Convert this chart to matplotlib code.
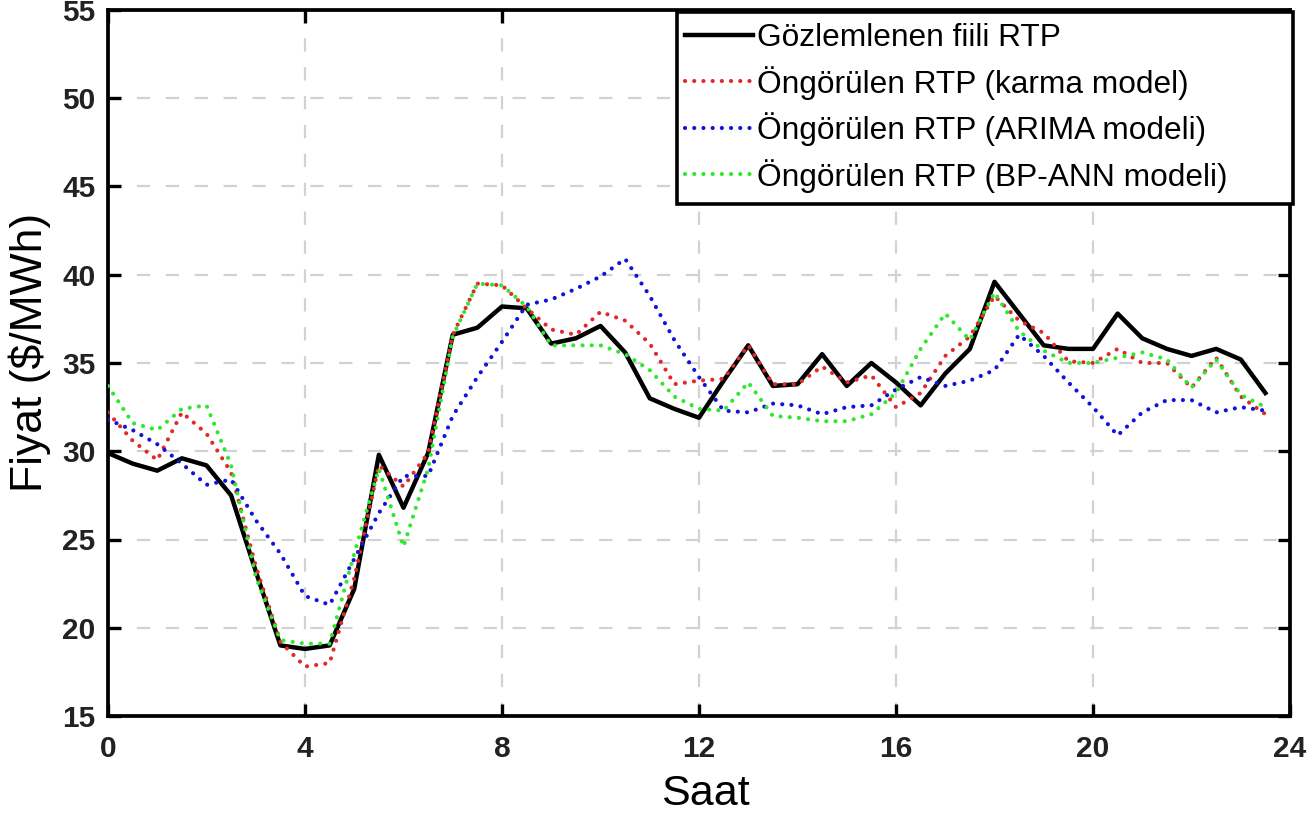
import matplotlib
matplotlib.use("Agg")
import matplotlib.pyplot as plt
from matplotlib.patches import Rectangle

plt.rcParams['font.family'] = ['Liberation Sans', 'DejaVu Sans']

hours = [0, 0.5, 1, 1.5, 2, 2.5, 3, 3.5, 4, 4.5, 5, 5.5, 6, 6.5, 7, 7.5,
         8, 8.5, 9, 9.5, 10, 10.5, 11, 11.5, 12, 12.5, 13, 13.5, 14, 14.5, 15, 15.5,
         16, 16.5, 17, 17.5, 18, 18.5, 19, 19.5, 20, 20.5, 21, 21.5, 22, 22.5, 23, 23.5]

observed = [29.9, 29.3, 28.9, 29.6, 29.2, 27.5, 23.2, 19.0, 18.8, 19.0, 22.2, 29.8,
            26.8, 29.9, 36.6, 37.0, 38.2, 38.1, 36.1, 36.4, 37.1, 35.6, 33.0, 32.4,
            31.9, 34.0, 36.0, 33.7, 33.8, 35.5, 33.7, 35.0, 33.9, 32.6, 34.4, 35.8,
            39.6, 37.8, 36.0, 35.8, 35.8, 37.8, 36.4, 35.8, 35.4, 35.8, 35.2, 33.3]

hybrid = [32.2, 30.6, 29.5, 32.2, 31.0, 28.8, 23.5, 19.2, 17.8, 18.0, 22.8, 29.2,
          28.0, 29.9, 36.6, 39.5, 39.4, 38.1, 36.9, 36.6, 37.9, 37.4, 36.1, 33.8,
          34.0, 34.1, 36.0, 33.8, 33.8, 34.8, 33.9, 34.3, 32.5, 33.3, 35.4, 36.5,
          38.8, 37.4, 36.7, 35.1, 35.0, 35.8, 35.0, 35.0, 33.6, 35.3, 33.1, 32.1]

arima = [31.8, 31.2, 30.4, 29.3, 28.1, 28.4, 26.1, 24.2, 21.8, 21.3, 23.9, 26.5,
         28.6, 28.6, 32.0, 34.2, 36.2, 38.3, 38.6, 39.2, 39.9, 40.9, 38.8, 36.3,
         34.2, 32.3, 32.2, 32.7, 32.6, 32.1, 32.5, 32.6, 33.5, 34.2, 33.7, 34.0,
         34.6, 36.6, 35.4, 33.9, 32.5, 30.9, 32.2, 32.9, 32.9, 32.2, 32.5, 32.3]

bpann = [33.7, 31.6, 31.2, 32.4, 32.6, 29.2, 22.9, 19.3, 19.1, 19.1, 24.2, 29.0,
         24.6, 29.0, 36.5, 39.5, 39.4, 38.2, 36.0, 36.0, 36.0, 35.5, 34.6, 33.1,
         32.4, 32.3, 33.9, 32.0, 31.9, 31.7, 31.7, 32.1, 33.3, 35.8, 37.8, 36.3,
         39.0, 36.8, 35.7, 35.0, 35.0, 35.3, 35.6, 35.2, 33.6, 35.2, 33.2, 32.5]

labels = ["Gözlemlenen fiili RTP",
          "Öngörülen RTP (karma model)",
          "Öngörülen RTP (ARIMA modeli)",
          "Öngörülen RTP (BP-ANN modeli)"]

xticks = [0, 4, 8, 12, 16, 20, 24]
yticks = [15, 20, 25, 30, 35, 40, 45, 50, 55]

W, H = 1314, 813
fig = plt.figure(figsize=(W / 100, H / 100), dpi=100)
ax = fig.add_axes([108 / W, 1 - 716 / H, (1290 - 108) / W, (716 - 10) / H])

dot = (0, (0.01, 2.2))
kw = dict(lw=3.0, ls=dot, dash_capstyle='round')
ax.plot(hours, observed, color='black', lw=3.2, label=labels[0], zorder=3)
ax.plot(hours, hybrid, color='#e02a2a', label=labels[1], zorder=4, **kw)
ax.plot(hours, arima, color='#1212d8', label=labels[2], zorder=4, **kw)
ax.plot(hours, bpann, color='#2ee82e', label=labels[3], zorder=5, **kw)

ax.set_xlim(0, 24)
ax.set_ylim(15, 55)
ax.set_xticks(xticks)
ax.set_yticks(yticks)
ax.grid(True, color='#d2d2d2', lw=1.6, ls=(0, (6, 7)), zorder=0)
ax.set_axisbelow(True)

for s in ax.spines.values():
    s.set_linewidth(2.7)
ax.tick_params(direction='in', length=9, width=2.4, top=True, right=True,
               labelsize=21.5)
ax.tick_params(axis='x', pad=14)
ax.tick_params(axis='y', pad=9)
for t in ax.get_xticklabels() + ax.get_yticklabels():
    t.set_fontweight('bold')
    t.set_color('#222222')

ax.set_xlabel("Saat", fontsize=31)
ax.set_ylabel("Fiyat ($/MWh)", fontsize=32)
ax.xaxis.set_label_coords(0.505, -0.082)
ax.yaxis.set_label_coords(-0.048, 0.515)

# legend frame box
box = Rectangle((677 / W, 1 - 204 / H), (1293 - 677) / W, (204 - 12) / H,
                transform=fig.transFigure, facecolor='white', edgecolor='black',
                lw=2.6, zorder=9, clip_on=False)
ax.add_patch(box)

leg = ax.legend(loc='upper left', bbox_to_anchor=(685 / W, 1 - 23 / H),
                bbox_transform=fig.transFigure, borderaxespad=0,
                fontsize=22.8, frameon=False,
                handlelength=2.15, handletextpad=0.12, labelspacing=0.4,
                borderpad=0)
leg.set_zorder(10)

fig.savefig("out.png", dpi=100)
